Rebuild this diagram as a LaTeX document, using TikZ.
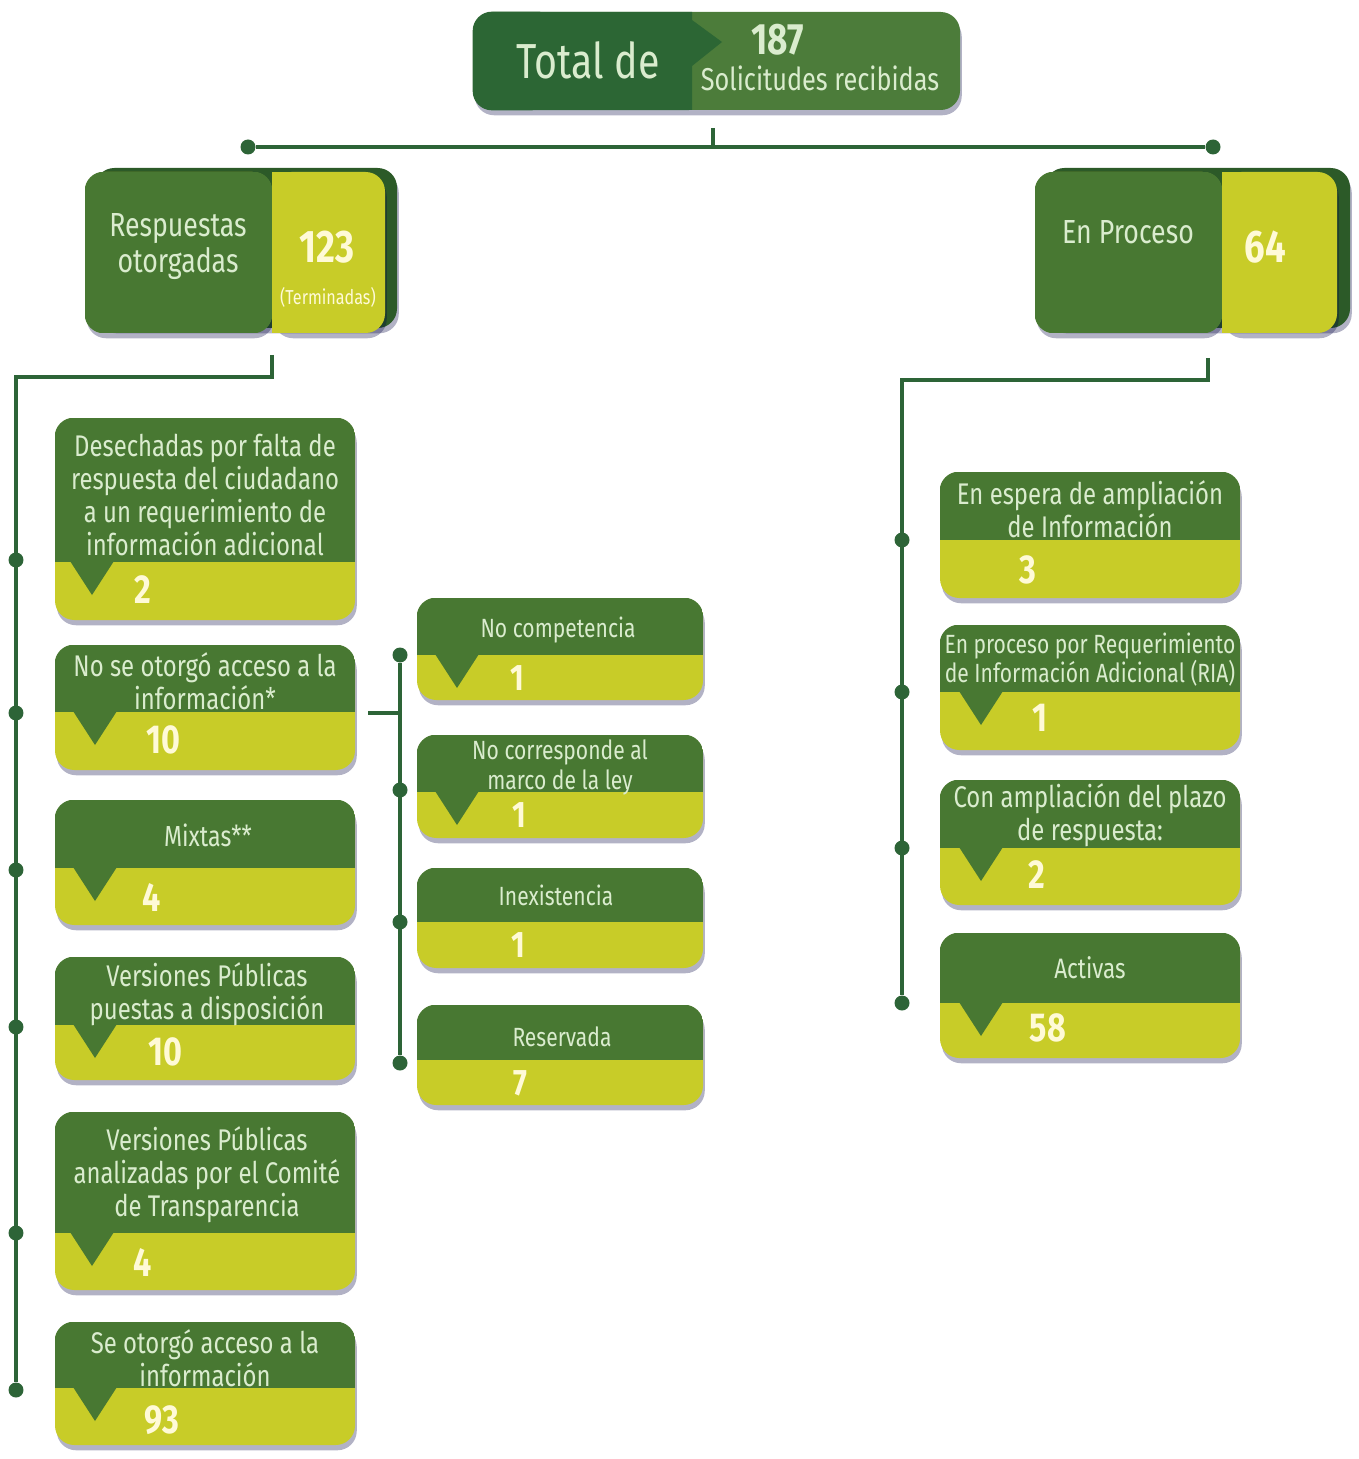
\documentclass[tikz,border=0pt]{standalone}
\usepackage{fontspec}
\setmainfont[FakeStretch=0.8]{Fira Sans}
\usetikzlibrary{fit,shadows}
\definecolor{topdark}{RGB}{44,102,52}
\definecolor{topmid}{RGB}{76,124,58}
\definecolor{midgreen}{RGB}{72,120,50}
\definecolor{edgegreen}{RGB}{44,90,40}
\definecolor{yel}{RGB}{200,204,40}
\definecolor{linec}{RGB}{45,100,55}
\definecolor{txtc}{RGB}{218,236,206}
\definecolor{numc}{RGB}{255,250,215}
\tikzset{
  box/.style={rounded corners=11pt,fill=yel,inner sep=0pt,
    drop shadow={shadow xshift=1pt,shadow yshift=-3pt,fill=blue!25!black,opacity=.3}},
  lbl/.style={text=txtc,align=center,font=\fontsize{17}{18.7}\selectfont},
  small/.style={text=txtc,align=center,font=\fontsize{15}{17}\selectfont},
  num/.style={text=numc,font=\fontsize{23}{23}\selectfont\bfseries},
  dot/.style={circle,fill=linec,inner sep=0pt,minimum size=0.3cm},
  conn/.style={linec,line width=2.2pt}
}
% name, top, split, bottom, left, right
\newcommand{\leaf}[6]{%
  \node[box,fit={(#5,#2)(#6,#4)}] (#1) {};
  \begin{scope}
    \clip[rounded corners=11pt] (#1.north west) rectangle (#1.south east);
    \fill[midgreen] (#1.north west) rectangle (#6,#3);
  \end{scope}}
\newcommand{\tipat}[2]{\fill[midgreen] (#1-22,#2-1) -- (#1+22,#2-1) -- (#1,#2+33) -- cycle;}
\begin{document}
\begin{tikzpicture}[x=0.02cm,y=-0.02cm]
  \useasboundingbox (0,0) rectangle (1358,1459);

  % total
  \node[box,fill=topmid,fit={(473,12)(960,110)}] (total) {};
  \begin{scope}
    \clip[rounded corners=11pt] (total.north west) rectangle (total.south east);
    \fill[topdark] (total.north west) -- (692,12) -- (692,20) -- (722,42) -- (692,66) -- (692,110) -- (total.south west) -- cycle;
  \end{scope}
  \node[text=txtc,font=\fontsize{28}{28}\selectfont] (totalde) at (588,60) {Total de};
  \node[text=txtc,font=\fontsize{25}{25}\selectfont\bfseries] (tnum) at (778,40) {187};
  \node[text=txtc,font=\fontsize{18}{18}\selectfont] (tsol) at (820,78) {Solicitudes recibidas};

  \node[dot] (bl) at (248,147) {};
  \node[dot] (br) at (1213,147) {};
  \coordinate (t0) at (713,128);
  \draw[conn] (bl) -- (br);
  \draw[conn] (t0) -- (t0 |- bl);

  % respuestas / en proceso
  \node[box,fill=edgegreen,fit={(95,168)(397,328)}] (respback) {};
  \leaf{resp}{172}{333}{333}{85}{272}
  \node[box,fill=edgegreen,fit={(1045,168)(1350,328)}] (procback) {};
  \leaf{proc}{172}{333}{333}{1035}{1222}
  \node[box,fill=yel,fit={(272,172)(385,333)},drop shadow={opacity=0}] (respnum) {};
  \node[box,fill=yel,fit={(1222,172)(1337,333)},drop shadow={opacity=0}] (procnum) {};
  \fill[yel] (272,172) rectangle (300,333);
  \fill[yel] (1222,172) rectangle (1250,333);
  \node[text=txtc,align=center,font=\fontsize{19}{20.5}\selectfont] (respt) at (178,247) {Respuestas\\otorgadas};
  \node[num,font=\fontsize{26}{26}\selectfont\bfseries] (respn) at (327,247) {123};
  \node[text=numc,font=\fontsize{11.5}{12}\selectfont] (term) at (328,297) {(Terminadas)};
  \node[text=txtc,font=\fontsize{19}{20.5}\selectfont] (proct) at (1128,232) {En Proceso};
  \node[num,font=\fontsize{26}{26}\selectfont\bfseries] (procn) at (1265,247) {64};

  % left column
  \leaf{desech}{418}{562}{620}{55}{355} \tipat{92}{562}
  \node[lbl] at (205,495) {Desechadas por falta de\\respuesta del ciudadano\\a un requerimiento de\\información adicional};
  \node[num] at (143,590) {2};
  \leaf{noacc}{645}{712}{770}{55}{355} \tipat{95}{712}
  \node[lbl] at (205,681) {No se otorgó acceso a la\\información*};
  \node[num] at (163,740) {10};
  \leaf{mixtas}{800}{868}{925}{55}{355} \tipat{95}{868}
  \node[lbl,font=\fontsize{16.5}{17}\selectfont] at (208,835) {Mixtas**};
  \node[num] at (152,897) {4};
  \leaf{verpub}{957}{1025}{1080}{55}{355} \tipat{95}{1025}
  \node[lbl] at (207,994) {Versiones Públicas\\puestas a disposición};
  \node[num] at (165,1052) {10};
  \leaf{vercom}{1112}{1233}{1290}{55}{355} \tipat{92}{1233}
  \node[lbl] at (207,1175) {Versiones Públicas\\analizadas por el Comité\\de Transparencia};
  \node[num] at (143,1262) {4};
  \leaf{seotor}{1322}{1388}{1445}{55}{355} \tipat{95}{1388}
  \node[lbl] at (205,1358) {Se otorgó acceso a la\\información};
  \node[num] at (162,1420) {93};

  \coordinate (rl0) at (272,355);
  \coordinate (rl1) at (16,377);
  \foreach \y [count=\i] in {560,713,870,1027,1233,1390}
    \node[dot] (ld\i) at (16,\y) {};
  \draw[conn] (rl0) |- (rl1) -- (ld6);

  % middle column
  \leaf{nocomp}{598}{655}{700}{417}{703} \tipat{457}{655}
  \node[small] at (558,630) {No competencia};
  \node[num,font=\fontsize{21}{21}\selectfont\bfseries] at (517,678) {1};
  \leaf{nocorr}{735}{792}{838}{417}{703} \tipat{457}{792}
  \node[small] at (560,767) {No corresponde al\\marco de la ley};
  \node[num,font=\fontsize{21}{21}\selectfont\bfseries] at (519,815) {1};
  \leaf{inex}{868}{922}{968}{417}{703}
  \node[small] at (556,895) {Inexistencia};
  \node[num,font=\fontsize{21}{21}\selectfont\bfseries] at (518,945) {1};
  \leaf{reserv}{1005}{1060}{1105}{417}{703}
  \node[small] at (562,1037) {Reservada};
  \node[num,font=\fontsize{21}{21}\selectfont\bfseries] at (520,1083) {7};

  \foreach \y [count=\i] in {655,790,922,1063}
    \node[dot] (md\i) at (400,\y) {};
  \coordinate (m0) at (368,713);
  \draw[conn] (md1) -- (md4);
  \draw[conn] (m0) -- (m0 -| md1);

  % right column
  \leaf{espera}{472}{540}{598}{940}{1240}
  \node[lbl] at (1090,509) {En espera de ampliación\\de Información};
  \node[num] at (1028,570) {3};
  \leaf{ria}{625}{692}{750}{940}{1240} \tipat{981}{692}
  \node[lbl,font=\fontsize{15}{16.5}\selectfont] at (1090,660) {En proceso por Requerimiento\\de Información Adicional (RIA)};
  \node[num] at (1040,718) {1};
  \leaf{conamp}{780}{848}{905}{940}{1240} \tipat{981}{848}
  \node[lbl] at (1090,815) {Con ampliación del plazo\\de respuesta:};
  \node[num] at (1037,875) {2};
  \leaf{activ}{933}{1003}{1058}{940}{1240} \tipat{981}{1003}
  \node[lbl,font=\fontsize{16}{17}\selectfont] at (1090,968) {Activas};
  \node[num] at (1048,1028) {58};

  \coordinate (pl0) at (1208,358);
  \coordinate (pl1) at (902,380);
  \foreach \y [count=\i] in {540,692,848,1003}
    \node[dot] (rd\i) at (902,\y) {};
  \draw[conn] (pl0) |- (pl1) -- (rd4);
\end{tikzpicture}
\end{document}
